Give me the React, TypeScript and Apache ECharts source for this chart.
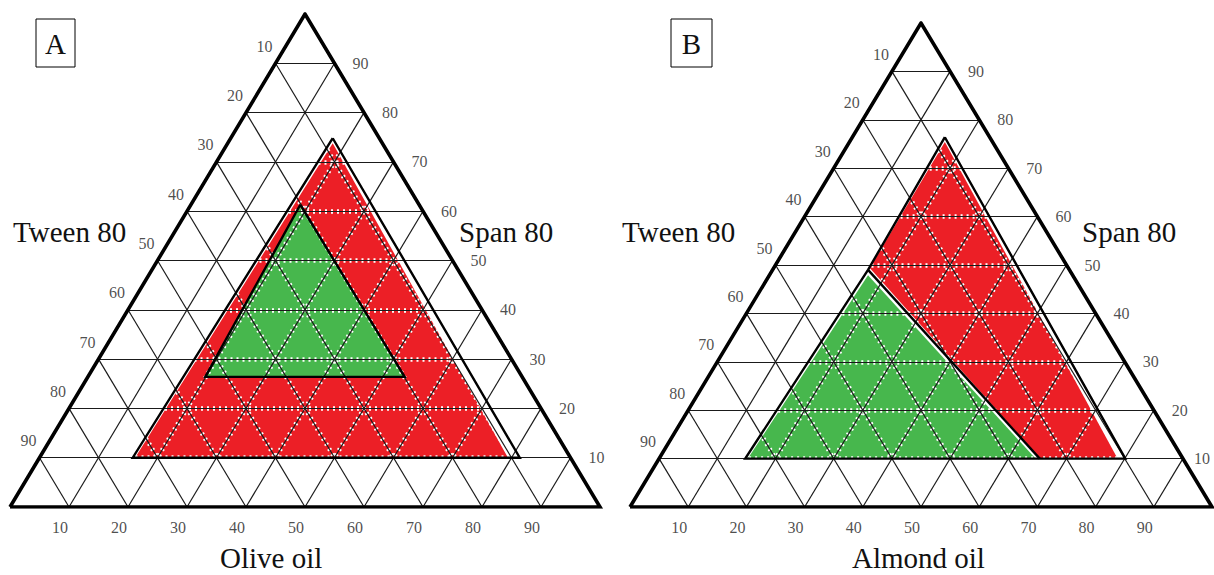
import React, { useEffect, useRef } from "react";
import * as echarts from "echarts";

// ---- grid steps & tick labels (percent) ----
const STEPS = [10, 20, 30, 40, 50, 60, 70, 80, 90];
const LEFT_TICKS = [10, 20, 30, 40, 50, 60, 70, 80, 90]; // Tween 80 (top → bottom)
const RIGHT_TICKS = [90, 80, 70, 60, 50, 40, 30, 20, 10]; // Span 80 (top → bottom)
const BOTTOM_TICKS = [10, 20, 30, 40, 50, 60, 70, 80, 90]; // oil (left → right)

// ---- regions, as [position along base %, height %] ----
// Panel A (olive oil)
const oliveRedFill = [[54.7, 73.8], [21.2, 10], [84.4, 10]];
const oliveRedOutline = [[54.7, 74.8], [20.8, 10], [86.4, 10], [54.7, 74.8]];
const oliveGreenFill = [[49.2, 61.3], [33.1, 26.4], [66.9, 26.4]];
const oliveGreenOutline = [[49.2, 61.3], [33.1, 26.4], [66.9, 26.4], [49.2, 61.3]];
// Panel B (almond oil)
const almondRedFill = [[54.1, 75.4], [41.2, 49.4], [70.4, 10.1], [83.7, 10.2]];
const almondGreenFill = [[40.9, 47.9], [20.3, 10.1], [69.6, 10.1]];
const almondOuterOutline = [[54.1, 76.4], [40.9, 49.0], [19.8, 10], [85.1, 10], [54.1, 76.4]];
const almondDivider = [[40.9, 49.0], [70.4, 10]];

const RED = "#ec1f26";
const GREEN = "#47b74d";
const FONT = "Liberation Serif";

const TRIANGLE = [[0, 0], [100, 0], [50, 100], [0, 0]];

function gridSegments() {
  const segs: any[] = [];
  for (const s of STEPS) {
    segs.push({ coords: [[s / 2, s], [100 - s / 2, s]] });
    segs.push({ coords: [[s, 0], [50 + s / 2, 100 - s]] });
    segs.push({ coords: [[s, 0], [s / 2, s]] });
  }
  return segs;
}

function panelSeries(
  idx: number,
  fills: { pts: number[][]; color: string }[],
  outlines: number[][][],
  squeezeLastRight: boolean
) {
  const axes = { xAxisIndex: idx, yAxisIndex: idx };
  const segs = gridSegments();
  const labelBase = {
    show: true,
    position: "inside",
    color: "#1e1e1e",
    fontSize: 16,
    fontFamily: FONT,
    formatter: (p: any) => String(p.value[2]),
  };
  const rightData = RIGHT_TICKS.map((v, i) => {
    const item: any = { value: [100 - v / 2, v, v] };
    if (squeezeLastRight && i === RIGHT_TICKS.length - 1) item.label = { offset: [19, 0] };
    return item;
  });
  return [
    {
      type: "custom",
      ...axes,
      z: 1,
      silent: true,
      data: fills.map((f) => f.pts[0]),
      renderItem: (params: any, api: any) => {
        const f = fills[params.dataIndex];
        return {
          type: "polygon",
          shape: { points: f.pts.map((p) => api.coord(p)) },
          style: { fill: f.color },
        };
      },
    },
    {
      type: "lines",
      coordinateSystem: "cartesian2d",
      ...axes,
      z: 2,
      silent: true,
      data: segs,
      lineStyle: { color: "#ffffff", width: 4.5, type: [2, 4], opacity: 1 },
    },
    {
      type: "lines",
      coordinateSystem: "cartesian2d",
      ...axes,
      z: 3,
      silent: true,
      data: segs,
      lineStyle: { color: "#1a1a1a", width: 1.2, opacity: 1 },
    },
    {
      type: "lines",
      coordinateSystem: "cartesian2d",
      polyline: true,
      ...axes,
      z: 4,
      silent: true,
      data: outlines.map((o) => ({ coords: o })),
      lineStyle: { color: "#000", width: 2.4, opacity: 1 },
    },
    {
      type: "lines",
      coordinateSystem: "cartesian2d",
      polyline: true,
      ...axes,
      z: 5,
      silent: true,
      data: [{ coords: TRIANGLE }],
      lineStyle: { color: "#000", width: 3.6, opacity: 1, join: "miter" },
    },
    {
      type: "scatter",
      ...axes,
      z: 6,
      silent: true,
      symbolSize: 1,
      itemStyle: { color: "rgba(0,0,0,0)" },
      data: LEFT_TICKS.map((v) => [(100 - v) / 2, 100 - v, v]),
      label: { ...labelBase, offset: [-11, -17] },
    },
    {
      type: "scatter",
      ...axes,
      z: 6,
      silent: true,
      symbolSize: 1,
      itemStyle: { color: "rgba(0,0,0,0)" },
      data: rightData,
      label: { ...labelBase, offset: [26, 0] },
    },
    {
      type: "scatter",
      ...axes,
      z: 6,
      silent: true,
      symbolSize: 1,
      itemStyle: { color: "rgba(0,0,0,0)" },
      data: BOTTOM_TICKS.map((v) => [v, 0, v]),
      label: { ...labelBase, offset: [-9, 20] },
    },
  ];
}

function txt(text: string, x: number, y: number, size: number, align = "left") {
  return {
    type: "text",
    x,
    y,
    z: 10,
    style: {
      text,
      fill: "#111",
      fontSize: size,
      fontFamily: FONT,
      align,
      verticalAlign: "middle",
      textAlign: align,
      textVerticalAlign: "middle",
    },
  };
}

export default function App() {
  const ref = useRef<HTMLDivElement>(null);
  useEffect(() => {
    if (!ref.current) return;
    const chart = echarts.init(ref.current, undefined, { renderer: "svg" });
    const axisCommon = { type: "value", min: 0, max: 100, show: false };
    chart.setOption({
      animation: false,
      backgroundColor: "#ffffff",
      grid: [
        { left: 10, top: 14, width: 590, height: 493 },
        { left: 630, top: 23, width: 582, height: 484 },
      ],
      xAxis: [
        { ...axisCommon, gridIndex: 0 },
        { ...axisCommon, gridIndex: 1 },
      ],
      yAxis: [
        { ...axisCommon, gridIndex: 0 },
        { ...axisCommon, gridIndex: 1 },
      ],
      series: [
        ...panelSeries(
          0,
          [
            { pts: oliveRedFill, color: RED },
            { pts: oliveGreenFill, color: GREEN },
          ],
          [oliveRedOutline, oliveGreenOutline],
          false
        ),
        ...panelSeries(
          1,
          [
            { pts: almondRedFill, color: RED },
            { pts: almondGreenFill, color: GREEN },
          ],
          [almondOuterOutline, almondDivider],
          true
        ),
      ],
      graphic: [
        { type: "rect", shape: { x: 36, y: 19, width: 39, height: 48 }, style: { fill: "#fff", stroke: "#000", lineWidth: 1 } },
        txt("A", 55.5, 44, 29, "center"),
        { type: "rect", shape: { x: 671, y: 19, width: 41, height: 48 }, style: { fill: "#fff", stroke: "#000", lineWidth: 1 } },
        txt("B", 691.5, 44, 29, "center"),
        txt("Tween 80", 13, 232, 29),
        txt("Span 80", 459, 232, 29),
        txt("Olive oil", 220, 558, 29),
        txt("Tween 80", 622, 232, 29),
        txt("Span 80", 1082, 232, 29),
        txt("Almond oil", 852, 558, 29),
      ],
    });
    return () => chart.dispose();
  }, []);
  return (
    <div
      ref={ref}
      style={{ position: "absolute", left: 0, top: 0, width: 1214, height: 575 }}
    />
  );
}
